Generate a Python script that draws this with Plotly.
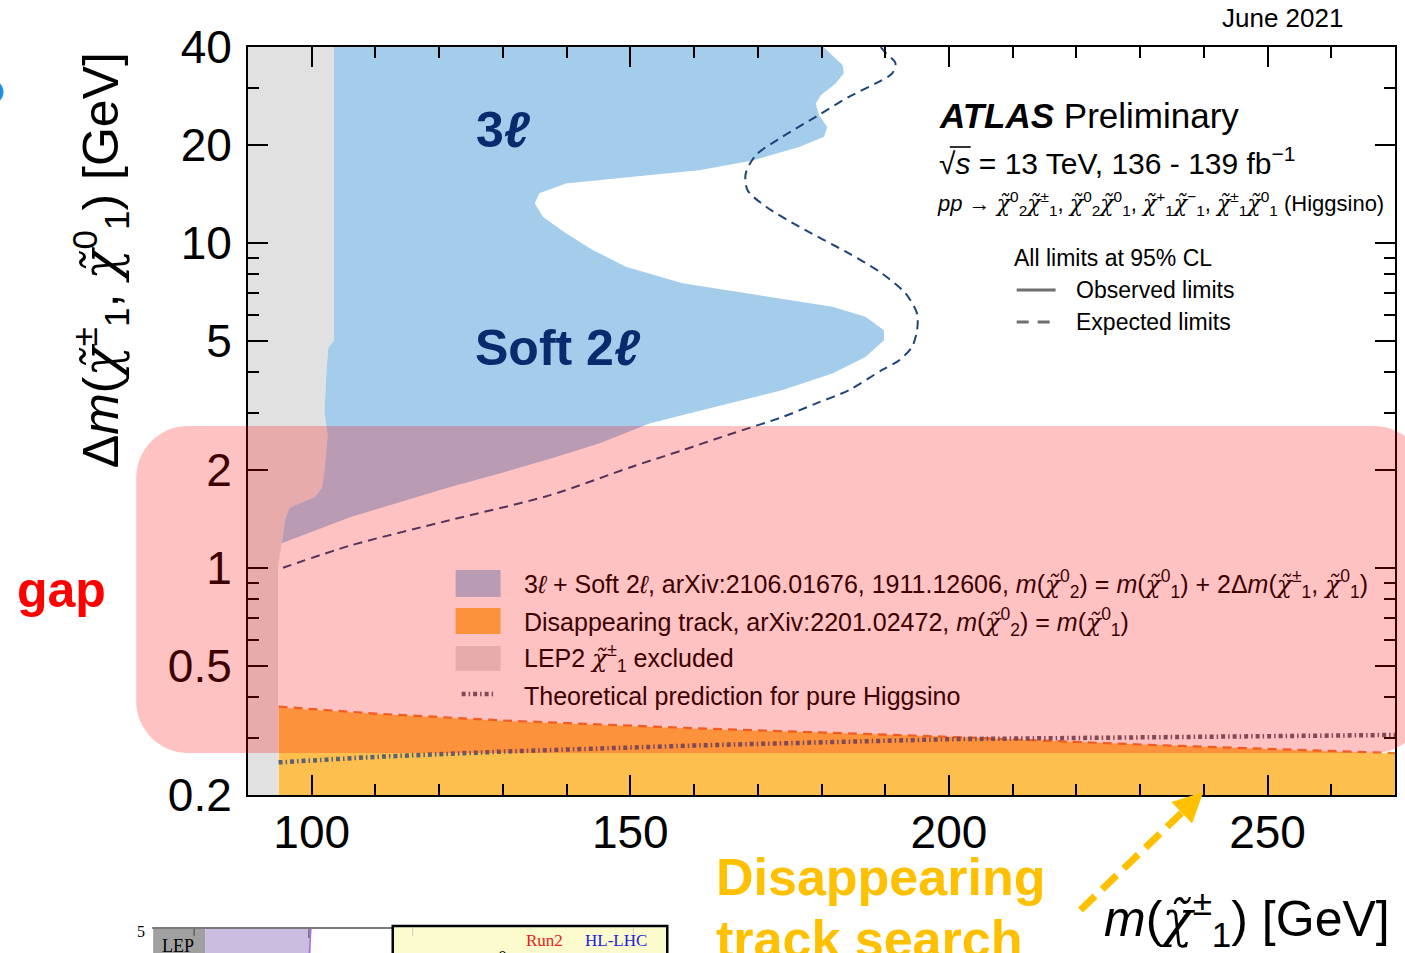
import numpy as np
import plotly.graph_objects as go

# ---------------------------------------------------------------- data
# axes: chargino mass [GeV] (x) and chargino-neutralino mass splitting [GeV] (y, log)
m_range = [90, 270]
dm_range = [0.2, 40]

x_tick_vals = [100, 150, 200, 250]
x_minor_vals = [110, 120, 130, 140, 160, 170, 180, 190, 210, 220, 230, 240, 260]
y_tick_vals = [0.2, 0.5, 1, 2, 5, 10, 20, 40]
y_tick_text = ["0.2", "0.5", "1", "2", "5", "10", "20", "40"]
y_minor_vals = [0.3, 0.4, 0.6, 0.7, 0.8, 0.9, 3, 4, 6, 7, 8, 9, 30]

# LEP2 chargino exclusion edge (top -> bottom)
lep_edge_m = [103.5, 103.5, 102.6, 102.3, 102.0, 102.5, 102.0, 101.6, 100.5, 98.1, 96.5, 95.8, 95.3, 94.7, 94.7]
lep_edge_dm = [40.0, 5.0, 4.75, 4.0, 3.0, 2.55, 2.0, 1.76, 1.65, 1.58, 1.53, 1.40, 1.19, 1.0, 0.2]

# 3l + soft 2l observed exclusion contour, right edge (top -> bottom)
obs_3l2l_m = [180.3, 183.3, 183.5, 182.2, 179.9, 179.1, 179.6, 180.9, 180.4, 176.5, 169.2, 160.8,
              150.4, 139.9, 135.7, 135.0, 136.3, 139.9, 144.1, 149.3, 158.2, 171.3, 181.7, 186.9,
              189.8, 189.8, 186.9, 181.7, 173.9, 163.4, 153.0, 145.1, 137.3, 129.5, 121.6, 106.0, 95.3]
obs_3l2l_dm = [40.0, 35.2, 33.2, 30.9, 28.4, 26.8, 24.7, 22.7, 21.2, 19.7, 17.9, 16.7,
               15.96, 15.2, 14.2, 13.2, 12.0, 10.7, 9.5, 8.43, 7.50, 6.82, 6.35, 5.92,
               5.38, 5.01, 4.45, 3.96, 3.52, 3.13, 2.78, 2.41, 2.16, 1.95, 1.77, 1.43, 1.19]

# 3l + soft 2l expected exclusion contour
exp_3l2l_m = [189.3, 190.1, 191.6, 191.1, 188.5, 184.3, 179.1, 173.9, 169.7, 168.1, 168.4, 171.3,
              176.5, 184.3, 189.5, 193.2, 195.0, 195.0, 194.2, 192.2, 189.5, 184.3, 179.1, 173.9,
              166.0, 158.2, 150.4, 137.3, 121.6, 106.0, 95.5]
exp_3l2l_dm = [40.0, 38.3, 35.7, 33.2, 30.9, 28.1, 24.4, 21.2, 18.6, 16.3, 14.5, 12.9,
               11.2, 9.27, 8.04, 6.98, 6.05, 5.38, 4.78, 4.35, 4.06, 3.52, 3.20, 2.91,
               2.59, 2.30, 2.05, 1.67, 1.40, 1.17, 1.00]

# disappearing-track exclusion (upper edge)
disp_obs_m = [94.8, 110, 130, 160, 200, 230, 270]
disp_obs_dm = [0.372, 0.355, 0.338, 0.320, 0.302, 0.286, 0.268]
disp_exp_m = [94.8, 110, 130, 160, 200, 230, 270]
disp_exp_dm = [0.374, 0.356, 0.339, 0.321, 0.302, 0.286, 0.269]

# pure-Higgsino theoretical mass splitting
theory_m = [94.8, 110, 130, 160, 200, 240, 270]
theory_dm = [0.252, 0.262, 0.272, 0.284, 0.297, 0.303, 0.306]

# ---------------------------------------------------------------- style
SANS = "Liberation Sans, Arial, Helvetica, sans-serif"
SERIF = "Liberation Serif, Times New Roman, serif"
GRAY = "#e1e1e1"
BLUE = "#a3cdeb"
GOLD = "#fdc04f"
NAVY = "#0a2a6e"
PINK = "rgba(255,0,0,0.24)"
UNDER_PINK_TEXT = "#3d0000"

W, H = 1405, 953
PL, PR, PT, PB = 248, 1397, 47, 795


def fx(x):
    return (x - PL) / (PR - PL)


def fy(y):
    return (PB - y) / (PB - PT)


fig = go.Figure()

# LEP2 excluded band
fig.add_trace(go.Scatter(
    x=[90] + lep_edge_m + [90], y=[lep_edge_dm[0]] + lep_edge_dm + [lep_edge_dm[-1]],
    fill="toself", fillcolor=GRAY, line=dict(width=0), mode="lines", hoverinfo="skip"))

# 3l + soft 2l observed exclusion
n_left = lep_edge_m.index(95.3) + 1
fig.add_trace(go.Scatter(
    x=obs_3l2l_m + lep_edge_m[:n_left][::-1],
    y=obs_3l2l_dm + lep_edge_dm[:n_left][::-1],
    fill="toself", fillcolor=BLUE, line=dict(width=0), mode="lines", hoverinfo="skip"))

# disappearing track observed exclusion
fig.add_trace(go.Scatter(
    x=[disp_obs_m[0]] + disp_obs_m + [disp_obs_m[-1]],
    y=[dm_range[0]] + disp_obs_dm + [dm_range[0]],
    fill="toself", fillcolor=GOLD, line=dict(width=0), mode="lines", hoverinfo="skip"))

# disappearing track expected
fig.add_trace(go.Scatter(
    x=disp_exp_m, y=disp_exp_dm, mode="lines",
    line=dict(color="#f07a2a", width=2.2, dash="9px,6px"), hoverinfo="skip"))

# Higgsino theory prediction
fig.add_trace(go.Scatter(
    x=theory_m, y=theory_dm, mode="lines",
    line=dict(color="#5a6070", width=4.5, dash="4px,3px,1.5px,3px"), hoverinfo="skip"))

# 3l + soft 2l expected
fig.add_trace(go.Scatter(
    x=exp_3l2l_m, y=exp_3l2l_dm, mode="lines",
    line=dict(color="#1f4478", width=2, dash="9px,6px", shape="spline", smoothing=0.8),
    hoverinfo="skip"))

axis_common = dict(
    ticks="inside", ticklen=20, tickwidth=1.5, tickcolor="black",
    showline=True, linecolor="black", linewidth=2, mirror="ticks",
    showgrid=False, zeroline=False, tickfont=dict(size=46, color="black", family=SANS),
)
fig.update_xaxes(range=m_range, tickmode="array", tickvals=x_tick_vals,
                 minor=dict(tickvals=x_minor_vals, ticks="inside", ticklen=11,
                            tickwidth=1.5, tickcolor="black", showgrid=False),
                 ticklabelstandoff=-4, **axis_common)
fig.update_yaxes(type="log", range=[np.log10(dm_range[0]), np.log10(dm_range[1])],
                 tickmode="array", tickvals=y_tick_vals, ticktext=y_tick_text,
                 minor=dict(tickvals=y_minor_vals, ticks="inside", ticklen=11,
                            tickwidth=1.5, tickcolor="black", showgrid=False),
                 ticklabelstandoff=5, **axis_common)

fig.update_layout(
    width=W, height=H, margin=dict(l=PL, r=W - PR, t=PT, b=H - PB),
    plot_bgcolor="white", paper_bgcolor="white", showlegend=False,
    font=dict(family=SANS, color="black"),
)


def note(text, x, y, size, color="black", xanchor="left", yanchor="middle", family=SANS, angle=0):
    fig.add_annotation(text=text, x=fx(x), y=fy(y), xref="paper", yref="paper",
                       showarrow=False, xanchor=xanchor, yanchor=yanchor, textangle=angle,
                       font=dict(size=size, color=color, family=family))


def rect(x0, y0, x1, y1, fill, line_color=None, line_width=0, layer="above"):
    fig.add_shape(type="rect", xref="paper", yref="paper",
                  x0=fx(x0), x1=fx(x1), y0=fy(y1), y1=fy(y0), fillcolor=fill,
                  line=dict(color=line_color or fill, width=line_width), layer=layer)


def seg(x0, y0, x1, y1, color, width, dash="solid"):
    fig.add_shape(type="line", xref="paper", yref="paper",
                  x0=fx(x0), y0=fy(y0), x1=fx(x1), y1=fy(y1),
                  line=dict(color=color, width=width, dash=dash), layer="above")


# neutralino / chargino symbol: chi with a tilde, set in a font carrying both glyphs
chi = '<span style="font-family:DejaVu Serif;font-style:italic">χ̃</span>'

# ---- header texts
note("June 2021", 1347, 18, 26, xanchor="right")
note("<b><i>ATLAS</i></b> Preliminary", 938, 115, 35)
note("√<i>s</i> = 13 TeV, 136 - 139 fb<sup>−1</sup>", 938, 161, 30)
seg(951, 147, 972, 147, "black", 1.6)
note(f"<i>pp</i> → {chi}<sup>0</sup><sub>2</sub>{chi}<sup>±</sup><sub>1</sub>, "
     f"{chi}<sup>0</sup><sub>2</sub>{chi}<sup>0</sup><sub>1</sub>, "
     f"{chi}<sup>+</sup><sub>1</sub>{chi}<sup>−</sup><sub>1</sub>, "
     f"{chi}<sup>±</sup><sub>1</sub>{chi}<sup>0</sup><sub>1</sub> (Higgsino)", 936, 204, 22)
note("All limits at 95% CL", 1013, 258, 23)
seg(1018, 290, 1057, 290, "#6e6e6e", 3)
note("Observed limits", 1075, 290, 23)
seg(1018, 322, 1054, 322, "#6e6e6e", 3, dash="12px,9px")
note("Expected limits", 1075, 322, 23)

# ---- region labels
note("<b>3<i>ℓ</i></b>", 474, 130, 50, color=NAVY)
note("<b>Soft 2<i>ℓ</i></b>", 473, 348, 50, color=NAVY)

# ---- lower legend
rect(456, 570, 501, 597, BLUE)
rect(456, 608, 501, 634, GOLD)
rect(456, 646, 501, 671, GRAY)
seg(462, 694, 496, 694, "#5a6070", 4.5, dash="4px,3px,1.5px,3px")
note(f"3<i>ℓ</i> + Soft 2<i>ℓ</i>, arXiv:2106.01676, 1911.12606, "
     f"<i>m</i>({chi}<sup>0</sup><sub>2</sub>) = <i>m</i>({chi}<sup>0</sup><sub>1</sub>) + "
     f"2Δ<i>m</i>({chi}<sup>±</sup><sub>1</sub>, {chi}<sup>0</sup><sub>1</sub>)",
     522, 584, 25, color=UNDER_PINK_TEXT)
note(f"Disappearing track, arXiv:2201.02472, <i>m</i>({chi}<sup>0</sup><sub>2</sub>) = "
     f"<i>m</i>({chi}<sup>0</sup><sub>1</sub>)", 522, 622, 25, color=UNDER_PINK_TEXT)
note(f"LEP2 {chi}<sup>±</sup><sub>1</sub> excluded", 522, 658, 25, color=UNDER_PINK_TEXT)
note("Theoretical prediction for pure Higgsino", 522, 696, 25, color=UNDER_PINK_TEXT)

# ---- axis titles
note(f"Δ<i>m</i>({chi}<sup>±</sup><sub>1</sub>, {chi}<sup>0</sup><sub>1</sub>) [GeV]",
     100, 260, 50, xanchor="center", angle=-90)
note(f"<i>m</i>({chi}<sup>±</sup><sub>1</sub>) [GeV]", 1394, 918, 50, xanchor="right")

# ---- highlighted "gap" band (translucent rounded box over the plot)
bx0, by0, bx1, by1, r = 136, 426, 1428, 753, 52
k = 0.5523 * r
path = (
    f"M {fx(bx0 + r)},{fy(by0)} L {fx(bx1 - r)},{fy(by0)} "
    f"C {fx(bx1 - r + k)},{fy(by0)} {fx(bx1)},{fy(by0 + r - k)} {fx(bx1)},{fy(by0 + r)} "
    f"L {fx(bx1)},{fy(by1 - r)} "
    f"C {fx(bx1)},{fy(by1 - r + k)} {fx(bx1 - r + k)},{fy(by1)} {fx(bx1 - r)},{fy(by1)} "
    f"L {fx(bx0 + r)},{fy(by1)} "
    f"C {fx(bx0 + r - k)},{fy(by1)} {fx(bx0)},{fy(by1 - r + k)} {fx(bx0)},{fy(by1 - r)} "
    f"L {fx(bx0)},{fy(by0 + r)} "
    f"C {fx(bx0)},{fy(by0 + r - k)} {fx(bx0 + r - k)},{fy(by0)} {fx(bx0 + r)},{fy(by0)} Z"
)
fig.add_shape(type="path", path=path, xref="paper", yref="paper",
              fillcolor=PINK, line=dict(width=0), layer="above")
note("<b>gap</b>", 15, 590, 50, color="#ff0000")

# ---- disappearing-track callout with dashed arrow
YEL = "#ffc000"
note("<b>Disappearing</b>", 715, 877, 52, color=YEL)
note("<b>track search</b>", 715, 939, 52, color=YEL)
tail = np.array([1082.0, 910.0])
tip = np.array([1205.0, 792.0])
d = (tip - tail) / np.linalg.norm(tip - tail)
nrm = np.array([-d[1], d[0]])
base = tip - 30 * d
seg(tail[0], tail[1], base[0], base[1], YEL, 7, dash="20px,10px")
c1 = base + 15 * nrm
c2 = base - 15 * nrm
fig.add_shape(type="path", xref="paper", yref="paper", layer="above",
              path=f"M {fx(tip[0])},{fy(tip[1])} L {fx(c1[0])},{fy(c1[1])} L {fx(c2[0])},{fy(c2[1])} Z",
              fillcolor=YEL, line=dict(width=0))

# ---- neighbouring slide elements (partly off-page)
fig.add_shape(type="circle", xref="paper", yref="paper", layer="above",
              x0=fx(-21), x1=fx(3), y0=fy(104), y1=fy(80),
              fillcolor="#1e8fe6", line=dict(width=0))

# small inset plot peeking in at the bottom
note("5", 141, 931, 16, family=SERIF, xanchor="center")
seg(152, 928, 395, 928, "#7a7a7a", 2)
rect(153, 929, 205, 960, "#a0a0a0")
rect(205, 929, 311, 960, "#cbbde0")
seg(311, 929, 309, 960, "#a66fe8", 1.5)
seg(194, 929, 194, 936, "#444444", 1)
seg(309, 929, 309, 938, "#444444", 1)
note("LEP", 178, 946, 18, family=SERIF, xanchor="center")
rect(393, 926, 668, 970, "#fafacd", line_color="black", line_width=2.5)
seg(413, 928, 413, 936, "#cccccc", 1)
seg(634, 928, 634, 936, "#cccccc", 1)
note("Run2", 545, 940, 17, color="#e52020", family=SERIF, xanchor="center")
note("HL-LHC", 617, 940, 17, color="#2222dd", family=SERIF, xanchor="center")
note("Δ<i>m</i>", 455, 960, 18, family=SERIF, xanchor="center")
note("0", 503, 958, 18, family=SERIF, xanchor="center")

fig.write_html("out.html")
